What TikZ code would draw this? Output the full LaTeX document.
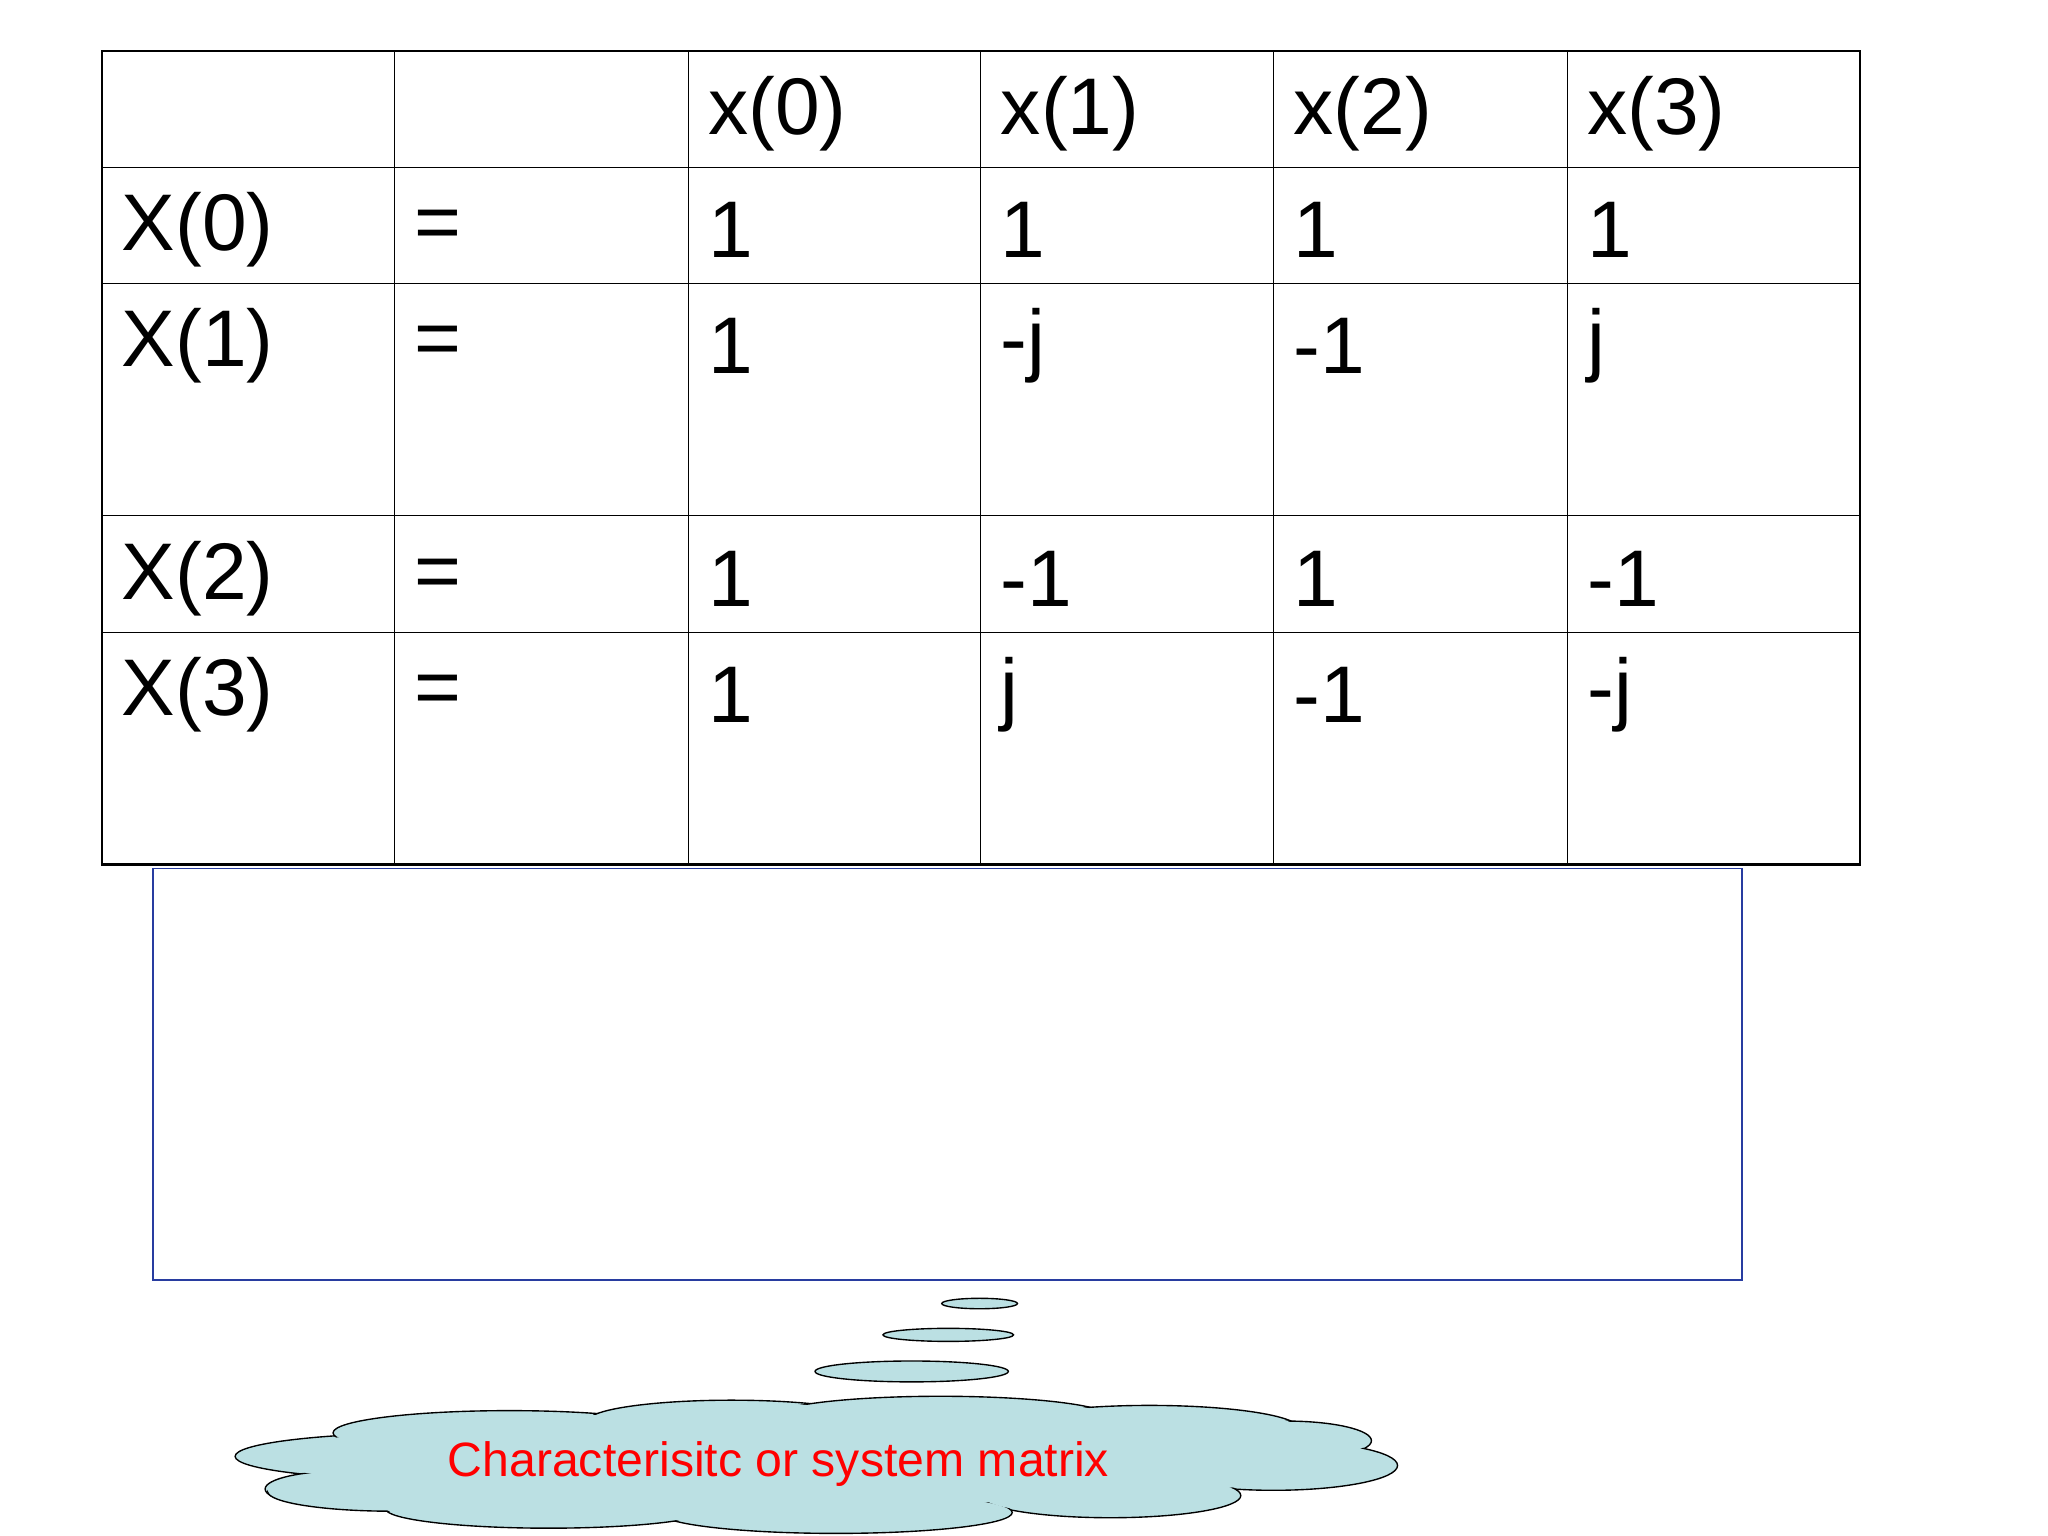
\documentclass[tikz,border=0pt]{standalone}
\usepackage{fontspec}
\setmainfont{Liberation Sans}
\definecolor{cloudc}{RGB}{187,224,227}
\begin{document}
\begin{tikzpicture}[x=0.02cm,y=-0.02cm,
 cell/.style={anchor=west,font=\fontsize{35}{40}\selectfont,inner sep=0pt},
 bub/.style={draw=black,fill=cloudc,line width=0.6pt}]
\useasboundingbox (0,0) rectangle (1568,1176);
% table
\draw[line width=1.2pt] (78,39) rectangle (1424,662);
\foreach \x in {302,527,751,975,1200} \draw[line width=0.5pt] (\x,39) -- (\x,662);
\foreach \y in {128,217,395,484} \draw[line width=0.5pt] (78,\y) -- (1424,\y);
\def\rowA{87}\def\rowB{176}\def\rowC{265}\def\rowD{443}\def\rowE{532}
\node[cell] (h0) at (542,\rowA) {x(0)};
\node[cell] (h1) at (766,\rowA) {x(1)};
\node[cell] (h2) at (990,\rowA) {x(2)};
\node[cell] (h3) at (1215,\rowA) {x(3)};
\foreach \r/\y/\a/\b/\c/\d in {0/176/1/1/1/1, 1/265/1/-j/-1/j, 2/443/1/-1/1/-1, 3/532/1/j/-1/-j}{
 \node[cell] (L\r) at (93,\y) {X(\r)};
 \node[cell] (E\r) at (317,\y) {=};
 \node[cell] (A\r) at (542,\y) {\a};
 \node[cell] (B\r) at (766,\y) {\b};
 \node[cell] (C\r) at (990,\y) {\c};
 \node[cell] (D\r) at (1215,\y) {\d};
}
% blue box
\draw[draw={rgb,255:red,40;green,60;blue,160},line width=0.8pt] (117,665) rectangle (1334,980);
% bubbles
\draw[bub] (750,998) ellipse [x radius=29,y radius=4];
\draw[bub] (726,1022) ellipse [x radius=50,y radius=5];
\draw[bub] (698,1050) ellipse [x radius=74,y radius=8];
% cloud
\def\lobes{(330,1115)/150/18, (265,1140)/62/14, (390,1097)/135/17, (560,1088)/110/16, (720,1085)/130/16, (880,1094)/115/18, (985,1103)/65/15, (975,1122)/95/19, (850,1145)/100/17, (640,1158)/135/16, (420,1155)/125/15, (300,1142)/95/15}
\foreach \p/\rx/\ry in \lobes \draw[bub] \p ellipse [x radius=\rx,y radius=\ry];
\foreach \p/\rx/\ry in \lobes \fill[cloudc] \p ellipse [x radius=\rx-1.5,y radius=\ry-1.5];
\fill[cloudc] (620,1122) ellipse [x radius=390,y radius=30];
\node[text=red,font=\fontsize{21}{25}\selectfont,inner sep=0pt] (cap) at (596,1121) {Characterisitc or system matrix};
\end{tikzpicture}
\end{document}
